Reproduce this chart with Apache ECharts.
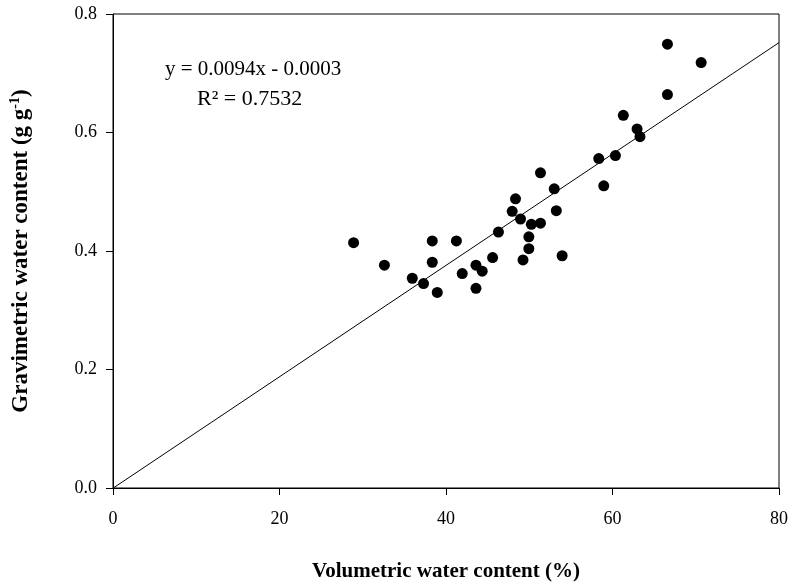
<!DOCTYPE html>
<html>
<head>
<meta charset="utf-8">
<script src="https://cdn.jsdelivr.net/npm/echarts@6/dist/echarts.min.js"></script>
<style>html,body{margin:0;padding:0;background:#fff;}#c{width:791px;height:587px;}</style>
</head>
<body>
<div id="c"></div>
<script>
// Volumetric water content (%)
var volumetric = [28.9, 32.6, 35.95, 37.3, 38.35, 38.35, 38.95, 41.25, 41.95, 43.6, 43.6, 44.35, 45.6, 46.3, 47.95, 48.35, 48.95, 49.25, 49.95, 49.95, 50.25, 51.35, 51.35, 53.0, 53.25, 53.95, 58.35, 58.95, 60.35, 61.3, 62.95, 63.3, 66.6, 66.6, 70.65];
// Gravimetric water content (g g-1)
var gravimetric = [0.414, 0.376, 0.354, 0.345, 0.417, 0.381, 0.330, 0.417, 0.362, 0.376, 0.337, 0.366, 0.389, 0.432, 0.467, 0.488, 0.454, 0.385, 0.424, 0.404, 0.445, 0.447, 0.532, 0.505, 0.468, 0.392, 0.556, 0.510, 0.561, 0.629, 0.606, 0.593, 0.749, 0.664, 0.718];
var slope = 0.0094;
var intercept = -0.0003;
var fitRange = [0, 80];
var xTicks = [0, 20, 40, 60, 80];
var yTicks = [0.0, 0.2, 0.4, 0.6, 0.8];
var eqText = 'y = 0.0094x - 0.0003';
var r2Text = 'R\u00B2 = 0.7532';

var points = volumetric.map(function (v, i) { return [v, gravimetric[i]]; });
var fitLine = fitRange.map(function (x) { return [x, slope * x + intercept]; });
var FONT = '"Liberation Serif", "Times New Roman", serif';

var chart = echarts.init(document.getElementById('c'), null, {renderer: 'canvas'});
chart.setOption({
  animation: false,
  backgroundColor: '#fff',
  grid: {left: 113, right: 11, top: 14, bottom: 98, show: true, borderColor: '#000', borderWidth: 1, backgroundColor: 'transparent'},
  xAxis: {
    type: 'value', min: xTicks[0], max: xTicks[xTicks.length - 1], interval: xTicks[1] - xTicks[0],
    axisLine: {show: true, onZero: false, lineStyle: {color: '#000', width: 1}},
    axisTick: {show: true, inside: false, length: 7, lineStyle: {color: '#000'}},
    splitLine: {show: false},
    axisLabel: {color: '#000', fontFamily: FONT, fontSize: 18, margin: 22},
    name: 'Volumetric water content (%)', nameLocation: 'middle', nameGap: 73,
    nameTextStyle: {color: '#000', fontFamily: FONT, fontSize: 21, fontWeight: 'bold'}
  },
  yAxis: {
    type: 'value', min: yTicks[0], max: yTicks[yTicks.length - 1], interval: 0.2,
    axisLine: {show: true, onZero: false, lineStyle: {color: '#000', width: 1}},
    axisTick: {show: true, inside: false, length: 7, lineStyle: {color: '#000'}},
    splitLine: {show: false},
    axisLabel: {color: '#000', fontFamily: FONT, fontSize: 18, margin: 16, formatter: function (v) { return v.toFixed(1); }},
    name: '{t|Gravimetric water content (g g}{s|-1}{t|)}', nameLocation: 'middle', nameGap: 78, nameRotate: 90,
    nameTextStyle: {
      color: '#000',
      rich: {
        t: {fontFamily: FONT, fontSize: 23, fontWeight: 'bold', color: '#000'},
        s: {fontFamily: FONT, fontSize: 14, fontWeight: 'bold', color: '#000', padding: [0, 0, 13, 0]}
      }
    }
  },
  series: [
    {
      type: 'line', data: fitLine, showSymbol: false, symbol: 'none',
      lineStyle: {color: '#000', width: 1}, z: 1, silent: true
    },
    {
      type: 'scatter', data: points, symbol: 'circle', symbolSize: 11,
      itemStyle: {color: '#000', opacity: 1}, z: 2
    }
  ],
  graphic: [
    {type: 'text', left: 165, top: 59, style: {text: eqText, fontFamily: FONT, fontSize: 21, fill: '#000'}},
    {type: 'text', left: 197, top: 88, style: {text: r2Text, fontFamily: FONT, fontSize: 22, fill: '#000'}}
  ]
});
</script>
</body>
</html>
